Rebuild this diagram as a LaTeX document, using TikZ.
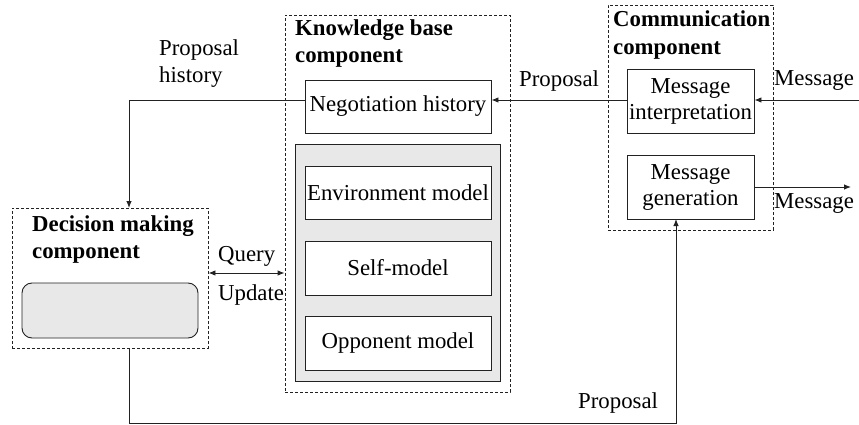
\documentclass[tikz,border=0pt]{standalone}
\usepackage{fontspec}
\setmainfont{Liberation Serif}
\usetikzlibrary{arrows.meta}
\definecolor{panel}{HTML}{E8E8E8}
\definecolor{ink}{HTML}{222222}
\begin{document}
\begin{tikzpicture}[x=1pt,y=-1pt,
  font=\fontsize{22.8}{27}\selectfont,
  every node/.style={inner sep=0pt},
  group/.style={draw=ink, line width=0.9pt, dash pattern=on 3pt off 2pt},
  box/.style={draw=ink, line width=0.9pt, fill=white, align=center},
  shelf/.style={draw=ink, line width=0.9pt, fill=panel},
  lbl/.style={anchor=base west, align=left},
  ttl/.style={anchor=base west, font=\fontsize{22.8}{27}\selectfont\bfseries},
  link/.style={draw=ink, line width=0.9pt},
  tip/.style={-{Latex[length=7pt,width=5.5pt]}},
  tips/.style={{Latex[length=7pt,width=5.5pt]}-{Latex[length=7pt,width=5.5pt]}}
]
\useasboundingbox (0,0) rectangle (859,425);

% Knowledge base component
\node[group, minimum width=225, minimum height=377] (kb) at (397.5,203.5) {};
\node[ttl] (kbt1) at (295,36) {Knowledge base};
\node[ttl] (kbt2) at (295,63) {component};
\node[box, minimum width=186, minimum height=53] (neg) at (398,106.5) {Negotiation history};
\node[shelf, minimum width=205, minimum height=237] (models) at (397.5,262.5) {};
\node[box, minimum width=186, minimum height=53] (env) at (398,192.5) {Environment model};
\node[box, minimum width=186, minimum height=54] (self) at (398,268) {Self-model};
\node[box, minimum width=186, minimum height=54] (opp) at (398,343) {Opponent model};

% Communication component
\node[group, minimum width=165, minimum height=225] (comm) at (690.5,117.5) {};
\node[ttl] (cmt1) at (613,27) {Communication};
\node[ttl] (cmt2) at (613,55) {component};
\node[box, minimum width=127, minimum height=64] (interp) at (690.5,101) {Message\\[-1pt]interpretation};
\node[box, minimum width=127, minimum height=64] (gen) at (690.5,187) {Message\\[-1pt]generation};

% Decision making component
\node[group, minimum width=196, minimum height=140] (dm) at (110,278) {};
\node[ttl] (dmt1) at (32,231) {Decision making};
\node[ttl] (dmt2) at (32,258) {component};
\node[shelf, rounded corners=10pt, minimum width=176, minimum height=55] (engine) at (110,310.5) {};

% Connector end points
\coordinate (msgin) at (859,100);
\coordinate (msgout) at (851,187);
\coordinate (dmtop) at (129,208);
\coordinate (dmbot) at (129,348);
\coordinate (genbot) at (676,219);
\coordinate (floor) at (676,423);
\coordinate (qu) at (0,273);

% Connectors
\draw[link, tip] (msgin) -- (interp.east |- msgin);
\draw[link, tip] (interp.west |- msgin) -- (neg.east |- msgin);
\draw[link, tip] (neg.west |- msgin) -| (dmtop);
\draw[link, tip] (gen.east) -- (msgout);
\draw[link, tips] (dm.east |- qu) -- (kb.west |- qu);
\draw[link, tip] (dmbot) |- (floor) -- (genbot);

% Connector labels
\node[lbl] (ph1) at (159,56) {Proposal};
\node[lbl] (ph2) at (159,83) {history};
\node[lbl] (p1) at (519,87) {Proposal};
\node[lbl] (m1) at (774,86) {Message};
\node[lbl] (m2) at (774,208) {Message};
\node[lbl] (q) at (218,261) {Query};
\node[lbl] (u) at (218,300) {Update};
\node[lbl] (p2) at (578,408) {Proposal};
\end{tikzpicture}
\end{document}
